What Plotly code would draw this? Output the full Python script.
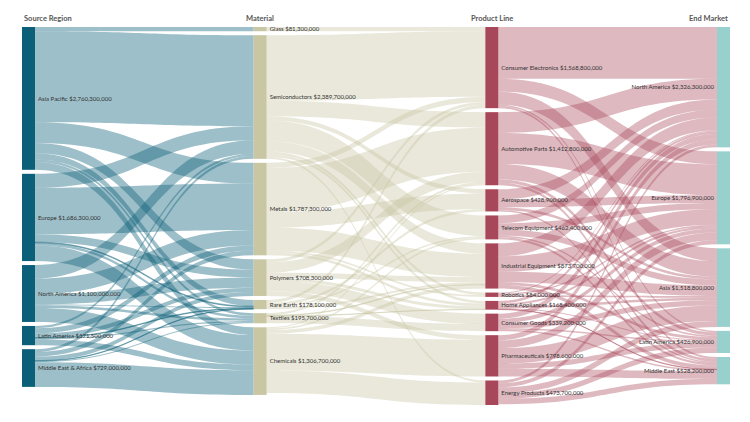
import plotly.graph_objects as go

# ---- data (read / estimated from the reference) ----
sources = ["Asia Pacific", "Europe", "North America", "Latin America", "Middle East & Africa"]
source_values = [2760.3, 1686.3, 1100.0, 371.5, 729.0]  # $M

materials = ["Glass", "Semiconductors", "Metals", "Polymers", "Rare Earth", "Textiles", "Chemicals"]
material_values = [81.3, 2389.7, 1787.3, 708.3, 178.1, 195.7, 1306.7]

products = ["Consumer Electronics", "Automotive Parts", "Aerospace", "Telecom Equipment",
            "Industrial Equipment", "Robotics", "Home Appliances", "Consumer Goods",
            "Pharmaceuticals", "Energy Products"]
product_values = [1568.8, 1412.8, 428.9, 462.4, 873.7, 84.0, 168.4, 339.2, 798.6, 473.7]

markets = ["North America", "Europe", "Asia", "Latin America", "Middle East"]
market_values = [2326.3, 1796.9, 1518.8, 426.9, 528.2]

# flows source -> material (rows: sources, cols: materials), $M
flow_src_mat = [
    [81.3, 1758.7, 400.0, 200.0, 120.0, 50.3, 150.0],
    [0, 270.0, 900.0, 150.0, 16.3, 50.0, 300.0],
    [0, 261.3, 300.0, 200.0, 20.0, 50.0, 268.7],
    [0, 44.7, 100.0, 80.0, 11.8, 25.4, 109.6],
    [0, 55.0, 87.3, 78.3, 10.0, 20.0, 478.4],
]
# flows material -> product (rows: materials, cols: products)
flow_mat_prod = [
    [81.3, 0, 0, 0, 0, 0, 0, 0, 0, 0],
    [1268.7, 300.0, 80.0, 400.0, 200.0, 50.0, 51.3, 0, 0, 39.7],
    [100.0, 850.0, 300.0, 0, 450.0, 34.0, 53.3, 0, 0, 0],
    [60.0, 200.0, 0, 0, 100.0, 0, 60.0, 200.0, 88.3, 0],
    [58.8, 0, 48.9, 30.0, 40.4, 0, 0, 0, 0, 0],
    [0, 40.0, 0, 0, 12.7, 0, 3.8, 139.2, 0, 0],
    [0, 22.8, 0, 32.4, 70.6, 0, 0, 0, 710.3, 434.0],
]
# flows product -> market (rows: products, cols: markets)
flow_prod_mkt = [
    [1000.0, 250.0, 250.0, 30.0, 38.8],
    [400.0, 600.0, 300.0, 60.0, 52.8],
    [200.0, 150.0, 50.0, 0, 28.9],
    [150.0, 120.0, 120.0, 30.0, 42.4],
    [250.0, 300.0, 200.0, 50.0, 73.7],
    [20.0, 30.0, 34.0, 0, 0],
    [50.0, 40.0, 50.0, 20.0, 8.4],
    [100.0, 80.0, 100.0, 30.0, 29.2],
    [100.0, 150.0, 300.0, 100.0, 148.6],
    [56.3, 76.9, 114.8, 106.9, 105.4],
]

column_titles = ["Source Region", "Material", "Product Line", "End Market"]

# ---- styling ----
col_node_colors = ["#0B5F79", "#C9C6A3", "#A8465A", "#98D0CD"]
col_link_colors = ["rgba(11,95,121,0.40)", "rgba(201,198,163,0.40)", "rgba(168,70,90,0.38)"]
FONT = "Lato, Open Sans, sans-serif"

W, H = 750, 422
DX0, DX1 = 22, 730          # domain in px
DY0, DY1 = 27, 405
THICK, PAD = 13, 4


def money(v):
    return "${:,.0f}".format(v * 1_000_000)


groups = [(sources, source_values), (materials, material_values),
          (products, product_values), (markets, market_values)]
labels, colors, offsets = [], [], []
off = 0
for ci, (names, vals) in enumerate(groups):
    offsets.append(off)
    for n, v in zip(names, vals):
        labels.append(f"{n} {money(v)}")
        colors.append(col_node_colors[ci])
    off += len(names)
n_nodes = off

src, tgt, val, lcol = [], [], [], []
for stage, matrix in enumerate([flow_src_mat, flow_mat_prod, flow_prod_mkt]):
    for i, row in enumerate(matrix):
        for j, v in enumerate(row):
            if v > 0:
                src.append(offsets[stage] + i)
                tgt.append(offsets[stage + 1] + j)
                val.append(v)
                lcol.append(col_link_colors[stage])

# node sizes as plotly computes them: max(inflow, outflow)
inflow = [0.0] * n_nodes
outflow = [0.0] * n_nodes
for s, t, v in zip(src, tgt, val):
    outflow[s] += v
    inflow[t] += v
nsize = [max(a, b) for a, b in zip(inflow, outflow)]

dom_w, dom_h = DX1 - DX0, DY1 - DY0
cols = [list(range(offsets[c], offsets[c] + len(groups[c][0]))) for c in range(4)]
ky = min((dom_h - (len(c) - 1) * PAD) / sum(nsize[k] for k in c) for c in cols)

node_x = [0.0] * n_nodes
node_y = [0.0] * n_nodes
for ci, c in enumerate(cols):
    y = 0.0
    cx = (THICK / 2 + ci * (dom_w - THICK) / 3) / dom_w
    for k in c:
        h = nsize[k] * ky
        node_x[k] = max(cx, 1e-4)
        node_y[k] = max((y + h / 2) / dom_h, 1e-4)
        y += h + PAD

fig = go.Figure(go.Sankey(
    arrangement="fixed",
    domain=dict(x=[DX0 / W, DX1 / W], y=[1 - DY1 / H, 1 - DY0 / H]),
    node=dict(label=labels, color=colors, pad=PAD, thickness=THICK,
              line=dict(width=0), x=node_x, y=node_y),
    link=dict(source=src, target=tgt, value=val, color=lcol),
    textfont=dict(family=FONT, size=6, color="#333333", shadow="none"),
))

anns = []
span = dom_w - THICK
for i, t in enumerate(column_titles):
    if i == 0:
        anns.append(dict(x=DX0 / W, xanchor="left", text=f"<b>{t}</b>"))
    elif i == 3:
        anns.append(dict(x=DX1 / W, xanchor="right", text=f"<b>{t}</b>"))
    else:
        anns.append(dict(x=(DX0 + THICK / 2 + span * i / 3) / W, xanchor="center",
                         text=f"<b>{t}</b>"))
for a in anns:
    a.update(y=1 - 18 / H, yanchor="middle", xref="paper", yref="paper",
             showarrow=False, font=dict(family=FONT, size=7.5, color="#555555"))

fig.update_layout(width=W, height=H, margin=dict(l=0, r=0, t=0, b=0),
                  paper_bgcolor="white", plot_bgcolor="white",
                  annotations=anns)
fig.write_html("out.html")
